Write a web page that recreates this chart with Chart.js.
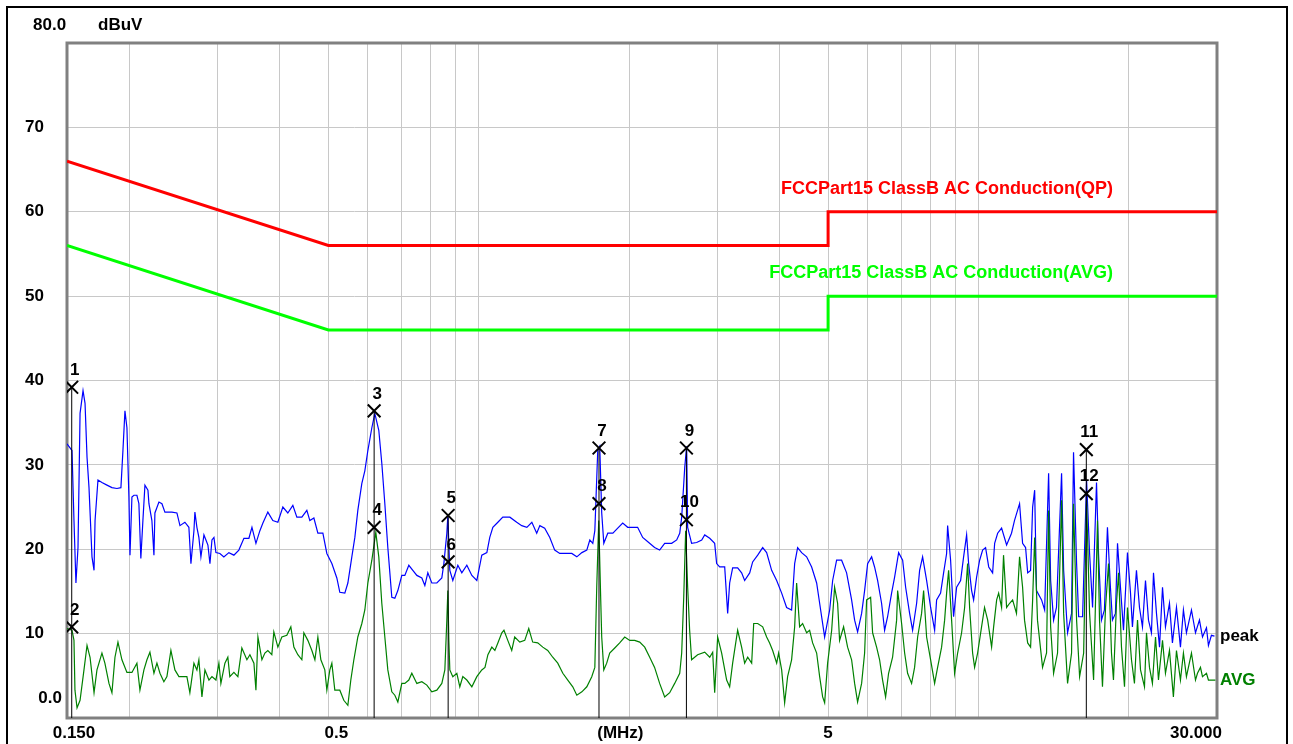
<!DOCTYPE html>
<html>
<head>
<meta charset="utf-8">
<title>Conducted emission</title>
<script src="https://cdn.jsdelivr.net/npm/chart.js@4.4.1/dist/chart.umd.min.js"></script>
<style>
  html, body { margin: 0; padding: 0; background: #fff; }
  canvas { display: block; }
</style>
</head>
<body>
<canvas id="emi" width="1293" height="744"></canvas>
<script>
// frequenze in MHz, livelli in dBuV

// traccia peak (blu)
const peakFreq = [
  0.150, 0.1535, 0.1549, 0.1563, 0.1578, 0.1593, 0.1615, 0.1630, 0.1645, 0.1660,
  0.1683, 0.1699, 0.1707, 0.1730, 0.1762, 0.1803, 0.1845, 0.1888, 0.1923, 0.1941,
  0.1959, 0.1977, 0.1995, 0.2005, 0.2023, 0.2042, 0.2070, 0.2089, 0.2108, 0.2128,
  0.2148, 0.2178, 0.2188, 0.2218, 0.2239, 0.2249, 0.2291, 0.2323, 0.2355, 0.2432,
  0.2489, 0.2524, 0.2582, 0.2630, 0.2655, 0.2692, 0.2704, 0.2729, 0.2754, 0.2780,
  0.2819, 0.2845, 0.2871, 0.2898, 0.2925, 0.2952, 0.2979, 0.3034, 0.3090, 0.3162,
  0.3236, 0.3311, 0.3389, 0.3468, 0.3517, 0.3582, 0.3648, 0.3699, 0.3784, 0.3872,
  0.3963, 0.4055, 0.4149, 0.4246, 0.4325, 0.4426, 0.4529, 0.4592, 0.4678, 0.4765,
  0.4876, 0.4966, 0.5082, 0.5200, 0.5272, 0.5395, 0.5471, 0.5572, 0.5650, 0.5728,
  0.5835, 0.5916, 0.5999, 0.6110, 0.6194, 0.6309, 0.6397, 0.6487, 0.6577, 0.6699,
  0.6793, 0.6888, 0.7015, 0.7113, 0.7245, 0.7380, 0.7518, 0.7693, 0.7800, 0.7908,
  0.8055, 0.8243, 0.8435, 0.8514, 0.8632, 0.8672, 0.8712, 0.8752, 0.8873, 0.9081,
  0.9249, 0.9465, 0.9686, 0.9911, 1.014, 1.038, 1.052, 1.067, 1.092, 1.117,
  1.154, 1.191, 1.219, 1.248, 1.277, 1.306, 1.325, 1.355, 1.387, 1.419,
  1.452, 1.500, 1.535, 1.571, 1.608, 1.645, 1.668, 1.691, 1.707, 1.730,
  1.746, 1.762, 1.779, 1.812, 1.855, 1.897, 1.941, 1.986, 2.032, 2.079,
  2.128, 2.188, 2.248, 2.301, 2.355, 2.432, 2.489, 2.524, 2.547, 2.583,
  2.606, 2.618, 2.666, 2.729, 2.793, 2.832, 2.898, 2.965, 2.992, 3.034,
  3.105, 3.148, 3.177, 3.221, 3.296, 3.357, 3.404, 3.484, 3.532, 3.615,
  3.699, 3.767, 3.855, 3.945, 4.037, 4.130, 4.226, 4.286, 4.345, 4.426,
  4.529, 4.635, 4.743, 4.809, 4.921, 5.036, 5.106, 5.200, 5.321, 5.445,
  5.572, 5.650, 5.728, 5.835, 5.916, 5.999, 6.110, 6.194, 6.281, 6.397,
  6.487, 6.577, 6.699, 6.793, 6.920, 7.049, 7.147, 7.279, 7.380, 7.518,
  7.622, 7.728, 7.872, 8.019, 8.168, 8.243, 8.396, 8.513, 8.632, 8.672,
  8.792, 8.914, 9.039, 9.207, 9.335, 9.465, 9.553, 9.686, 9.775, 9.911,
  10.05, 10.19, 10.33, 10.48, 10.67, 10.77, 10.92, 11.12, 11.38, 11.64,
  11.80, 12.08, 12.25, 12.42, 12.54, 12.71, 12.83, 12.95, 13.06, 13.37,
  13.56, 13.81, 13.94, 14.13, 14.32, 14.66, 14.80, 15.07, 15.35, 15.49,
  15.71, 15.86, 16.15, 16.45, 16.68, 16.91, 17.22, 17.38, 17.62, 17.86,
  18.11, 18.36, 18.53, 18.79, 18.97, 19.23, 19.50, 19.86, 20.14, 20.32,
  20.70, 20.99, 21.28, 21.58, 21.88, 22.18, 22.39, 22.70, 23.02, 23.34,
  23.66, 24.10, 24.43, 24.89, 25.35, 25.70, 26.06, 26.67, 27.17, 27.67,
  28.06, 28.58, 28.84, 29.24, 29.65
];
const peakLevel = [
  32.5, 31.7, 23.4, 16.0, 20.2, 36.1, 38.8, 37.3, 30.9, 27.3,
  19.1, 17.5, 23.4, 28.2, 27.9, 27.6, 27.3, 27.2, 27.3, 31.7,
  36.4, 34.4, 26.2, 19.3, 26.2, 26.4, 26.4, 25.4, 18.9, 23.4,
  27.6, 27.0, 25.4, 23.4, 19.3, 24.3, 25.6, 25.4, 24.4, 24.4,
  24.3, 22.8, 23.2, 22.6, 18.3, 22.2, 24.4, 22.6, 21.4, 19.1,
  21.7, 21.1, 20.5, 18.3, 21.1, 21.4, 19.6, 19.5, 19.1, 19.6,
  19.3, 19.9, 21.3, 21.3, 22.6, 20.7, 22.2, 23.1, 24.4, 23.4,
  23.2, 25.0, 24.3, 25.2, 23.8, 23.8, 24.6, 23.4, 23.7, 21.9,
  21.9, 19.5, 18.3, 16.6, 14.9, 14.8, 16.0, 19.1, 21.4, 24.6,
  27.8, 29.3, 31.7, 34.4, 36.1, 34.1, 30.2, 25.4, 20.2, 14.3,
  14.2, 15.1, 16.9, 16.9, 18.1, 17.5, 16.9, 16.6, 15.7, 17.2,
  16.0, 16.0, 16.6, 18.3, 21.9, 24.0, 20.5, 17.5, 16.3, 18.1,
  17.2, 18.1, 16.9, 16.3, 19.3, 19.6, 21.4, 22.6, 23.2, 23.8,
  23.8, 23.2, 22.8, 22.6, 23.2, 21.9, 22.8, 22.5, 21.4, 19.9,
  19.5, 19.5, 19.5, 19.1, 19.6, 19.9, 21.1, 20.7, 22.2, 31.7,
  32.2, 24.3, 20.7, 21.9, 21.9, 22.5, 23.1, 22.6, 22.6, 22.6,
  21.4, 20.8, 20.2, 19.9, 20.7, 20.7, 21.1, 21.9, 23.8, 29.7,
  32.2, 22.6, 20.7, 20.8, 21.1, 21.7, 21.3, 20.7, 18.3, 17.9,
  17.9, 12.4, 16.0, 17.8, 17.8, 17.2, 16.3, 17.2, 18.5, 19.3,
  20.2, 19.6, 17.5, 16.3, 14.8, 13.1, 12.8, 18.3, 20.2, 19.6,
  19.1, 17.9, 16.0, 13.6, 9.6, 12.8, 16.3, 18.7, 18.7, 17.2,
  14.0, 11.6, 10.2, 12.4, 15.1, 18.3, 19.1, 17.9, 16.3, 13.6,
  10.4, 12.0, 14.8, 16.7, 19.6, 18.7, 15.5, 12.4, 10.4, 13.6,
  17.5, 19.1, 16.3, 13.1, 10.4, 14.0, 14.8, 17.2, 19.5, 22.8,
  18.7, 12.0, 15.5, 16.3, 19.1, 21.7, 18.3, 15.1, 14.0, 16.7,
  18.7, 19.9, 20.2, 17.9, 17.2, 20.7, 21.9, 22.5, 20.5, 21.9,
  23.4, 25.4, 20.7, 20.2, 17.2, 17.5, 25.0, 27.0, 15.1, 14.0,
  12.8, 29.0, 16.3, 11.6, 13.1, 29.0, 17.5, 10.1, 12.4, 31.5,
  18.3, 12.0, 12.0, 28.2, 19.5, 13.1, 27.9, 19.5, 11.6, 12.8,
  22.6, 15.5, 11.6, 12.4, 20.7, 15.5, 10.4, 19.6, 14.8, 10.8,
  17.5, 13.1, 10.8, 16.3, 11.6, 10.1, 17.2, 12.4, 8.4, 15.5,
  10.8, 13.6, 8.9, 13.1, 8.4, 12.8, 10.1, 12.8, 10.1, 11.6,
  9.6, 10.7, 8.6, 9.8, 9.7
];

// traccia AVG (verde scuro)
const avgFreq = [
  0.150, 0.1535, 0.1549, 0.1556, 0.1571, 0.1593, 0.1622, 0.1645, 0.1668, 0.1699,
  0.1722, 0.1762, 0.1786, 0.1820, 0.1845, 0.1871, 0.1897, 0.1932, 0.1977, 0.2023,
  0.2070, 0.2099, 0.2138, 0.2168, 0.2198, 0.2239, 0.2270, 0.2302, 0.2344, 0.2377,
  0.2421, 0.2466, 0.2512, 0.2559, 0.2606, 0.2642, 0.2692, 0.2729, 0.2754, 0.2793,
  0.2832, 0.2885, 0.2925, 0.2979, 0.3020, 0.3048, 0.3105, 0.3147, 0.3176, 0.3236,
  0.3296, 0.3357, 0.3436, 0.3484, 0.3549, 0.3582, 0.3615, 0.3682, 0.3733, 0.3784,
  0.3854, 0.3890, 0.3963, 0.4036, 0.4130, 0.4207, 0.4266, 0.4345, 0.4426, 0.4467,
  0.4550, 0.4635, 0.4700, 0.4765, 0.4831, 0.4920, 0.4966, 0.5035, 0.5082, 0.5152,
  0.5272, 0.5370, 0.5471, 0.5546, 0.5624, 0.5728, 0.5835, 0.5916, 0.5999, 0.6110,
  0.6223, 0.6309, 0.6397, 0.6487, 0.6577, 0.6699, 0.6793, 0.6888, 0.7015, 0.7113,
  0.7245, 0.7346, 0.7518, 0.7693, 0.7872, 0.8055, 0.8243, 0.8435, 0.8553, 0.8632,
  0.8672, 0.8712, 0.8752, 0.8873, 0.9039, 0.9164, 0.9291, 0.9465, 0.9686, 0.9911,
  1.014, 1.029, 1.043, 1.062, 1.077, 1.092, 1.112, 1.123, 1.143, 1.164,
  1.180, 1.208, 1.236, 1.259, 1.282, 1.312, 1.343, 1.374, 1.406, 1.439,
  1.473, 1.507, 1.542, 1.571, 1.608, 1.645, 1.683, 1.707, 1.722, 1.738,
  1.754, 1.762, 1.779, 1.803, 1.828, 1.871, 1.914, 1.959, 2.005, 2.051,
  2.099, 2.148, 2.198, 2.248, 2.301, 2.355, 2.410, 2.466, 2.524, 2.547,
  2.571, 2.594, 2.618, 2.642, 2.666, 2.741, 2.832, 2.898, 2.938, 2.965,
  3.006, 3.062, 3.133, 3.177, 3.221, 3.296, 3.357, 3.404, 3.452, 3.516,
  3.549, 3.615, 3.699, 3.767, 3.819, 3.873, 3.945, 3.981, 4.037, 4.093,
  4.149, 4.226, 4.286, 4.325, 4.385, 4.446, 4.529, 4.592, 4.656, 4.743,
  4.809, 4.876, 4.921, 4.989, 5.083, 5.152, 5.224, 5.272, 5.370, 5.470,
  5.572, 5.650, 5.728, 5.835, 5.916, 5.971, 6.082, 6.138, 6.252, 6.339,
  6.427, 6.517, 6.607, 6.730, 6.856, 6.888, 7.016, 7.114, 7.212, 7.346,
  7.448, 7.553, 7.692, 7.764, 7.872, 8.019, 8.168, 8.281, 8.435, 8.553,
  8.632, 8.712, 8.833, 8.956, 9.081, 9.249, 9.379, 9.509, 9.597, 9.730,
  9.820, 9.957, 10.14, 10.28, 10.43, 10.62, 10.72, 10.87, 10.97, 11.12,
  11.22, 11.38, 11.54, 11.70, 11.91, 12.08, 12.25, 12.36, 12.54, 12.71,
  12.83, 12.95, 13.12, 13.43, 13.68, 13.81, 13.94, 14.13, 14.39, 14.66,
  14.80, 15.07, 15.35, 15.49, 15.71, 15.93, 16.23, 16.45, 16.68, 16.99,
  17.30, 17.46, 17.70, 17.95, 18.20, 18.45, 18.62, 18.88, 19.06, 19.32,
  19.59, 19.86, 20.23, 20.51, 20.80, 21.09, 21.48, 21.68, 21.98, 22.28,
  22.60, 22.91, 23.34, 23.66, 24.10, 24.54, 24.89, 25.35, 25.70, 26.06,
  26.67, 27.17, 27.42, 27.80, 28.06, 28.58, 28.84, 29.38, 29.78
];
const avgLevel = [
  10.6, 10.4, 9.2, 3.3, 1.2, 2.1, 5.7, 8.6, 7.2, 3.0,
  5.7, 7.7, 6.5, 4.1, 3.0, 7.2, 9.0, 6.9, 5.4, 5.4,
  6.5, 3.3, 5.7, 6.9, 7.8, 5.3, 6.5, 5.3, 4.3, 4.9,
  8.0, 5.7, 4.9, 4.9, 4.9, 3.0, 6.5, 5.7, 6.9, 2.5,
  5.7, 4.5, 4.9, 4.5, 6.5, 4.1, 6.5, 7.2, 4.9, 5.4,
  4.9, 8.3, 6.9, 7.5, 6.5, 3.3, 9.6, 6.9, 7.7, 8.0,
  7.5, 10.2, 8.4, 9.6, 9.8, 10.8, 8.4, 7.5, 6.9, 10.1,
  9.2, 8.0, 6.9, 9.6, 6.9, 5.7, 3.3, 5.7, 6.5, 3.3,
  3.3, 2.1, 1.5, 4.5, 6.9, 9.6, 11.2, 12.8, 16.0, 18.7,
  22.0, 19.1, 13.6, 9.6, 5.7, 3.1, 2.7, 1.9, 4.1, 4.1,
  4.5, 5.3, 4.1, 4.3, 3.9, 3.1, 3.3, 4.1, 5.7, 11.6,
  15.1, 9.2, 5.7, 4.9, 5.3, 3.7, 4.9, 4.5, 3.7, 4.9,
  5.7, 6.0, 7.5, 8.4, 8.0, 8.9, 10.1, 10.4, 9.2, 8.0,
  9.6, 9.0, 9.2, 10.6, 9.0, 8.9, 8.4, 8.0, 7.2, 6.5,
  5.3, 4.5, 3.7, 2.7, 3.1, 3.7, 4.9, 6.0, 15.5, 23.4,
  14.0, 9.6, 5.7, 6.5, 7.7, 8.3, 8.9, 9.6, 9.2, 9.2,
  9.0, 8.4, 7.2, 6.0, 4.1, 2.5, 3.0, 4.1, 5.3, 7.7,
  14.3, 22.2, 15.5, 10.4, 6.9, 7.5, 7.8, 7.2, 7.8, 3.0,
  9.6, 7.7, 4.5, 3.7, 6.5, 10.4, 8.4, 6.5, 7.2, 6.5,
  11.2, 11.2, 10.8, 9.6, 8.9, 8.0, 6.5, 7.7, 5.7, 1.8,
  4.9, 6.9, 10.8, 16.0, 10.8, 11.2, 10.1, 10.4, 8.9, 7.7,
  4.9, 2.5, 1.8, 6.5, 10.4, 15.5, 13.6, 9.2, 10.8, 8.4,
  6.9, 4.1, 1.9, 4.1, 7.7, 14.0, 14.3, 10.1, 8.4, 6.9,
  4.5, 2.5, 5.3, 7.2, 11.6, 15.1, 11.2, 7.7, 5.3, 4.1,
  6.0, 9.6, 12.4, 15.1, 9.6, 6.9, 4.1, 6.0, 8.4, 11.6,
  14.8, 17.5, 11.6, 5.3, 7.7, 10.1, 13.1, 18.3, 13.1, 7.7,
  6.0, 7.7, 10.8, 13.1, 11.6, 8.4, 10.8, 14.0, 14.8, 13.1,
  19.3, 13.1, 13.6, 14.0, 12.4, 19.1, 15.5, 11.6, 8.9, 8.4,
  14.0, 21.4, 11.6, 6.0, 7.7, 24.6, 10.8, 5.3, 7.7, 25.8,
  12.4, 4.1, 7.7, 25.4, 11.6, 4.9, 7.7, 25.8, 12.4, 4.5,
  23.4, 11.6, 3.7, 13.1, 18.3, 7.7, 4.5, 13.6, 17.2, 8.4,
  3.7, 13.1, 6.9, 4.1, 11.6, 5.7, 3.7, 10.1, 6.0, 4.1,
  9.6, 4.5, 9.2, 5.3, 8.0, 2.5, 8.0, 4.5, 7.7, 4.9,
  7.7, 4.5, 5.3, 6.0, 4.9, 5.3, 4.5, 4.5, 4.5
];

// limiti FCC Part 15 Classe B
const limitFreq = [0.15, 0.5, 5, 5, 30];
const qpLimit = [66, 56, 56, 60, 60];
const avgLimit = [56, 46, 46, 50, 50];

// marker 1..12
const markerFreq = [0.1533, 0.1533, 0.6175, 0.6175, 0.8684, 0.8684, 1.740, 1.740, 2.603, 2.603, 16.43, 16.43];
const markerLevel = [39.2, 10.8, 36.4, 22.6, 24.0, 18.5, 32.0, 25.4, 32.0, 23.5, 31.8, 26.6];

// griglia ed etichette degli assi
const xGridTicks = [0.15, 0.2, 0.3, 0.4, 0.5, 0.6, 0.7, 0.8, 0.9, 1, 2, 3, 4, 5, 6, 7, 8, 9, 10, 20, 30];
const xLabelText = ['0.150', '0.5', '(MHz)', '5', '30.000'];
const xLabelFreq = [0.15, 0.5, 1.92, 5, 30];
const yTickValues = [10, 20, 30, 40, 50, 60, 70];

const FONT = '"Liberation Sans", Arial, sans-serif';

function pts(xs, ys) {
  return xs.map((x, i) => ({ x: x, y: ys[i] }));
}

// linee verticali nere sotto ai marker (una per frequenza)
const markerLines = [];
for (let i = 0; i < markerFreq.length; i += 2) {
  markerLines.push({
    label: 'line' + i,
    data: [{ x: markerFreq[i], y: 0 }, { x: markerFreq[i], y: markerLevel[i] }],
    borderColor: '#000',
    borderWidth: 1,
    pointRadius: 0
  });
}

const emiPlugin = {
  id: 'emiPlugin',
  beforeDatasetsDraw(chart) {
    const ctx = chart.ctx;
    const a = chart.chartArea;
    ctx.save();
    ctx.strokeStyle = '#808080';
    ctx.lineWidth = 3;
    ctx.strokeRect(a.left, a.top, a.right - a.left, a.bottom - a.top);
    ctx.restore();
  },
  afterDraw(chart) {
    const ctx = chart.ctx;
    const a = chart.chartArea;
    const xs = chart.scales.x;
    const ys = chart.scales.y;
    ctx.save();

    // cornice esterna
    ctx.strokeStyle = '#000';
    ctx.lineWidth = 2;
    ctx.strokeRect(7, 7, 1280, 760);

    ctx.font = 'bold 17px ' + FONT;
    ctx.textBaseline = 'middle';
    ctx.fillStyle = '#000';

    // etichette asse y
    ctx.textAlign = 'right';
    yTickValues.forEach(v => ctx.fillText(String(v), 44, ys.getPixelForValue(v)));
    ctx.fillText('0.0', 62, ys.getPixelForValue(0) - 20);
    ctx.textAlign = 'left';
    ctx.fillText('80.0', 33, ys.getPixelForValue(80) - 18);
    ctx.fillText('dBuV', 98, ys.getPixelForValue(80) - 18);

    // etichette asse x
    const xShift = [7, 8, 0, 0, -21];
    ctx.textAlign = 'center';
    xLabelText.forEach((t, i) => {
      ctx.fillText(t, xs.getPixelForValue(xLabelFreq[i]) + xShift[i], a.bottom + 15);
    });

    // nomi dei limiti
    ctx.font = 'bold 18px ' + FONT;
    ctx.textAlign = 'right';
    ctx.fillStyle = '#ff0000';
    ctx.fillText('FCCPart15 ClassB AC Conduction(QP)', a.right - 104, ys.getPixelForValue(qpLimit[qpLimit.length - 1]) - 23);
    ctx.fillStyle = '#00ff00';
    ctx.fillText('FCCPart15 ClassB AC Conduction(AVG)', a.right - 104, ys.getPixelForValue(avgLimit[avgLimit.length - 1]) - 23);

    // nomi delle tracce
    ctx.font = 'bold 17px ' + FONT;
    ctx.textAlign = 'left';
    ctx.fillStyle = '#000';
    ctx.fillText('peak', a.right + 3, ys.getPixelForValue(peakLevel[peakLevel.length - 1]));
    ctx.fillStyle = '#008000';
    ctx.fillText('AVG', a.right + 3, ys.getPixelForValue(avgLevel[avgLevel.length - 1]));

    // numeri dei marker
    ctx.font = 'bold 17px ' + FONT;
    ctx.fillStyle = '#000';
    ctx.textAlign = 'center';
    markerFreq.forEach((f, i) => {
      ctx.fillText(String(i + 1), xs.getPixelForValue(f) + 3, ys.getPixelForValue(markerLevel[i]) - 17);
    });
    ctx.restore();
  }
};

new Chart(document.getElementById('emi'), {
  type: 'line',
  data: {
    datasets: [
      {
        label: 'marker',
        data: pts(markerFreq, markerLevel),
        showLine: false,
        pointStyle: 'crossRot',
        pointRadius: 9,
        pointBorderWidth: 2,
        pointBorderColor: '#000',
        borderColor: '#000'
      },
      ...markerLines,
      {
        label: 'AVG',
        data: pts(avgFreq, avgLevel),
        borderColor: '#008000',
        borderWidth: 1.2,
        pointRadius: 0
      },
      {
        label: 'peak',
        data: pts(peakFreq, peakLevel),
        borderColor: '#0000ff',
        borderWidth: 1.2,
        pointRadius: 0
      },
      {
        label: 'QP limit',
        data: pts(limitFreq, qpLimit),
        borderColor: '#ff0000',
        borderWidth: 3,
        pointRadius: 0
      },
      {
        label: 'AVG limit',
        data: pts(limitFreq, avgLimit),
        borderColor: '#00ff00',
        borderWidth: 3,
        pointRadius: 0
      }
    ]
  },
  options: {
    responsive: false,
    animation: false,
    devicePixelRatio: 1,
    layout: { padding: { left: 7, right: 76, top: 43, bottom: 0 } },
    plugins: {
      legend: { display: false },
      tooltip: { enabled: false }
    },
    scales: {
      x: {
        type: 'logarithmic',
        min: 0.15,
        max: 30,
        afterBuildTicks: s => { s.ticks = xGridTicks.map(v => ({ value: v })); },
        afterFit: s => { s.height = 26; },
        ticks: { display: false },
        grid: { color: '#c8c8c8', lineWidth: 1, drawTicks: false },
        border: { display: false }
      },
      y: {
        type: 'linear',
        min: 0,
        max: 80,
        ticks: { display: false, stepSize: 10 },
        afterFit: s => { s.width = 60; },
        grid: { color: '#c8c8c8', lineWidth: 1, drawTicks: false },
        border: { display: false }
      }
    }
  },
  plugins: [emiPlugin]
});
</script>
</body>
</html>
